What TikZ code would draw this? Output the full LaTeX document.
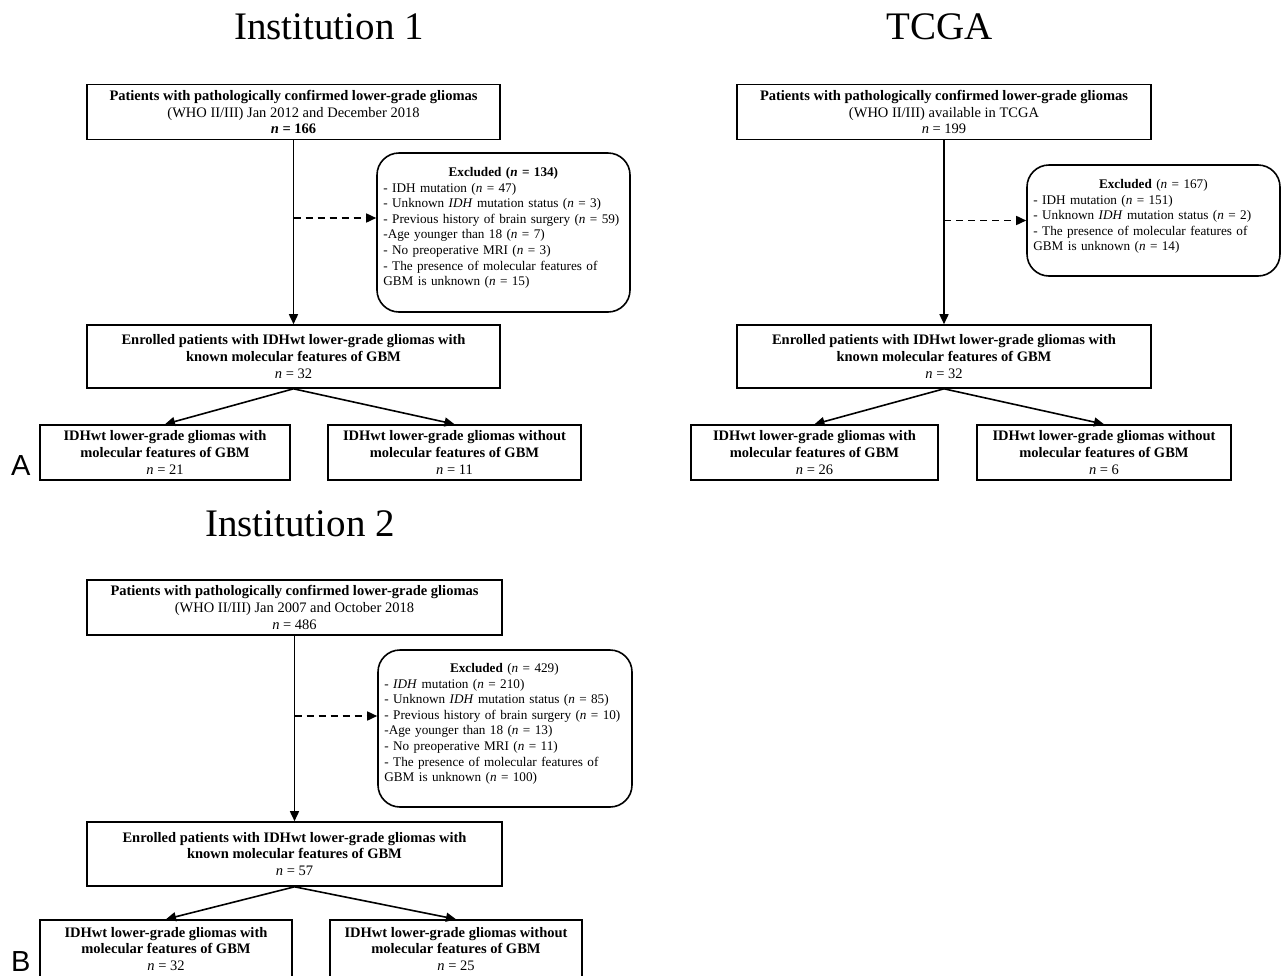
\documentclass[tikz,border=0pt]{standalone}
\usepackage{fontspec}
\setmainfont{Liberation Serif}
\newfontfamily\panelfont{Liberation Sans}
\usetikzlibrary{arrows.meta}
\begin{document}
\begin{tikzpicture}[x=1pt,y=-1pt,
  box/.style={draw, line width=1.6pt, align=center, inner sep=0pt, font=\fontsize{14.5}{16.8}\selectfont},
  exbox/.style={draw, line width=1.6pt, rounded corners=22pt, inner sep=0pt},
  extext/.style={anchor=north west, inner sep=0pt, align=left, text width=244pt, font=\fontsize{13.2}{15.6}\selectfont},
  flow/.style={line width=1.6pt, -{Triangle[length=10pt,width=9pt]}},
  dflow/.style={flow, dash pattern=on 7pt off 5pt},
  title/.style={anchor=base, inner sep=0pt, font=\fontsize{39}{40}\selectfont},
  panel/.style={anchor=base west, inner sep=0pt, font=\panelfont\fontsize{29}{30}\selectfont}
]
\useasboundingbox[fill=white] (0,0) rectangle (1283,975);

% ---------------- Titles ----------------
\node[title] (ti1) at (329,39) {Institution 1};
\node[title] (ti2) at (940,39) {TCGA};
\node[title] (ti3) at (300,536) {Institution 2};
\node[panel] (pA) at (11,475) {A};
\node[panel] (pB) at (11,971) {B};

% ---------------- Institution 1 ----------------
\node[box, minimum width=413pt, minimum height=55pt] (t1) at (293.5,112)
  {\textbf{Patients with pathologically confirmed lower-grade gliomas}\\(WHO II/III) Jan 2012 and December 2018\\\textbf{\textit{n} = 166}};
\node[exbox, minimum width=253pt, minimum height=159pt] (x1) at (503.5,232.5) {};
\node[extext] (x1t) at ([xshift=7pt,yshift=-15pt]x1.north west)
  {\makebox[240pt]{\textbf{Excluded (\textit{n} = 134)}}\\
   - IDH mutation (\textit{n} = 47)\\
   - Unknown \textit{IDH} mutation status (\textit{n} = 3)\\
   - Previous history of brain surgery (\textit{n} = 59)\\
   -Age younger than 18 (\textit{n} = 7)\\
   - No preoperative MRI (\textit{n} = 3)\\
   - The presence of molecular features of\\
   GBM is unknown (\textit{n} = 15)};
\node[box, minimum width=413pt, minimum height=63pt] (e1) at (293.5,356.5)
  {\textbf{Enrolled patients with IDHwt lower-grade gliomas with}\\\textbf{known molecular features of GBM}\\\textit{n} = 32};
\node[box, minimum width=250pt, minimum height=55pt] (l1) at (165,452.5)
  {\textbf{IDHwt lower-grade gliomas with}\\\textbf{molecular features of GBM}\\\textit{n} = 21};
\node[box, minimum width=253pt, minimum height=55pt] (r1) at (454.5,452.5)
  {\textbf{IDHwt lower-grade gliomas without}\\\textbf{molecular features of GBM}\\\textit{n} = 11};
\coordinate (d1) at ([yshift=14.5pt]t1.south |- x1.center);
\draw[flow] (t1.south) -- (e1.north);
\draw[dflow] (d1) -- (d1 -| x1.west);
\draw[flow] (e1.south) -- (l1.north);
\draw[flow] (e1.south) -- (r1.north);

% ---------------- TCGA ----------------
\node[box, minimum width=414pt, minimum height=55pt] (t2) at (944,112)
  {\textbf{Patients with pathologically confirmed lower-grade gliomas}\\(WHO II/III) available in TCGA\\\textit{n} = 199};
\node[exbox, minimum width=253pt, minimum height=111pt] (x2) at (1153.5,220.5) {};
\node[extext] (x2t) at ([xshift=7pt,yshift=-15pt]x2.north west)
  {\makebox[240pt]{\textbf{Excluded} (\textit{n} = 167)}\\
   - IDH mutation (\textit{n} = 151)\\
   - Unknown \textit{IDH} mutation status (\textit{n} = 2)\\
   - The presence of molecular features of\\
   GBM is unknown (\textit{n} = 14)};
\node[box, minimum width=414pt, minimum height=63pt] (e2) at (944,356.5)
  {\textbf{Enrolled patients with IDHwt lower-grade gliomas with}\\\textbf{known molecular features of GBM}\\\textit{n} = 32};
\node[box, minimum width=247pt, minimum height=55pt] (l2) at (814.5,452.5)
  {\textbf{IDHwt lower-grade gliomas with}\\\textbf{molecular features of GBM}\\\textit{n} = 26};
\node[box, minimum width=254pt, minimum height=55pt] (r2) at (1104,452.5)
  {\textbf{IDHwt lower-grade gliomas without}\\\textbf{molecular features of GBM}\\\textit{n} = 6};
\coordinate (d2) at (t2.south |- x2.center);
\draw[flow] (t2.south) -- (e2.north);
\draw[dflow] (d2) -- (d2 -| x2.west);
\draw[flow] (e2.south) -- (l2.north);
\draw[flow] (e2.south) -- (r2.north);

% ---------------- Institution 2 ----------------
\node[box, minimum width=415pt, minimum height=55pt] (t3) at (294.5,607.5)
  {\textbf{Patients with pathologically confirmed lower-grade gliomas}\\(WHO II/III) Jan 2007 and October 2018\\\textit{n} = 486};
\node[exbox, minimum width=254pt, minimum height=157pt] (x3) at (505,728.5) {};
\node[extext] (x3t) at ([xshift=7pt,yshift=-14pt]x3.north west)
  {\makebox[240pt]{\textbf{Excluded} (\textit{n} = 429)}\\
   - \textit{IDH} mutation (\textit{n} = 210)\\
   - Unknown \textit{IDH} mutation status (\textit{n} = 85)\\
   - Previous history of brain surgery (\textit{n} = 10)\\
   -Age younger than 18 (\textit{n} = 13)\\
   - No preoperative MRI (\textit{n} = 11)\\
   - The presence of molecular features of\\
   GBM is unknown (\textit{n} = 100)};
\node[box, minimum width=415pt, minimum height=64pt] (e3) at (294.5,854)
  {\textbf{Enrolled patients with IDHwt lower-grade gliomas with}\\\textbf{known molecular features of GBM}\\\textit{n} = 57};
\node[box, minimum width=252pt, minimum height=58pt] (l3) at (166,949)
  {\textbf{IDHwt lower-grade gliomas with}\\\textbf{molecular features of GBM}\\\textit{n} = 32};
\node[box, minimum width=252pt, minimum height=58pt] (r3) at (456,949)
  {\textbf{IDHwt lower-grade gliomas without}\\\textbf{molecular features of GBM}\\\textit{n} = 25};
\coordinate (d3) at ([yshift=12.5pt]t3.south |- x3.center);
\draw[flow] (t3.south) -- (e3.north);
\draw[dflow] (d3) -- (d3 -| x3.west);
\draw[flow] (e3.south) -- (l3.north);
\draw[flow] (e3.south) -- (r3.north);
\end{tikzpicture}
\end{document}
